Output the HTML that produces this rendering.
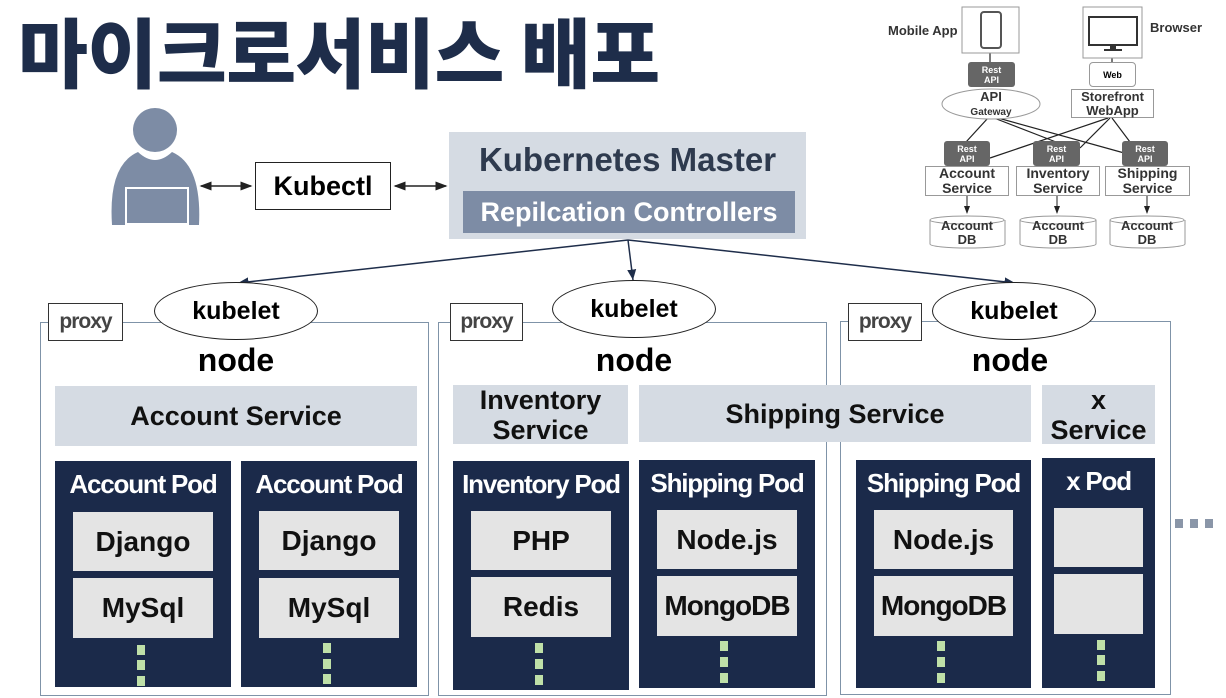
<!DOCTYPE html>
<html><head><meta charset="utf-8"><style>
body{margin:0;width:1226px;height:698px;background:#fff;position:relative;overflow:hidden;font-family:"Liberation Sans","Noto Sans CJK KR",sans-serif;}
.a{position:absolute;box-sizing:border-box;display:flex;align-items:center;justify-content:center;text-align:center;}
.node{position:absolute;border:1.5px solid #7f93a8;box-sizing:border-box;}
.proxy{background:#fff;border:1.5px solid #333;font-size:21px;color:#444;font-weight:bold;letter-spacing:-1px;}
.kub{background:#fff;border:1.5px solid #222;border-radius:50%;font-size:25px;font-weight:bold;}
.nd{font-size:32px;font-weight:bold;}
.svc{background:#d5dbe3;font-size:27px;font-weight:bold;line-height:30px;color:#111;}
.pod{background:#1b2a4a;}
.pt{position:absolute;left:0;right:0;top:8px;color:#fff;font-weight:bold;font-size:26px;letter-spacing:-1.2px;text-align:center;}
.in{background:#e4e4e4;font-size:28px;font-weight:bold;color:#111;}
.dot{position:absolute;width:8px;height:10px;background:#bfe0a8;}
.sm{font-weight:bold;color:#333;}
</style></head><body>
<div class="a" style="left:18px;top:4px;width:680px;height:90px;font-family:'Noto Sans CJK KR',sans-serif;font-weight:900;font-size:76px;color:#1e2d4a;letter-spacing:-0.5px;justify-content:flex-start;white-space:nowrap">마이크로서비스 배포</div>

<svg style="position:absolute;left:0;top:0" width="1226" height="698">
<defs><marker id="ar" markerWidth="8" markerHeight="8" refX="7" refY="4" orient="auto-start-reverse"><path d="M0,1L8,4L0,7z" fill="#222"/></marker>
<marker id="ar2" markerWidth="8" markerHeight="8" refX="7" refY="4" orient="auto"><path d="M0,1L7,4L0,7z" fill="#1e2d4a"/></marker></defs>
<circle cx="155" cy="130" r="22" fill="#7d8ca5"/>
<path d="M112,225 Q108,165 138,152 Q155,168 172,152 Q202,165 199,225 Z" fill="#7d8ca5"/>
<rect x="126" y="188" width="62" height="36" fill="#7d8ca5" stroke="#fff" stroke-width="2"/>
<line x1="126" y1="228" x2="188" y2="228" stroke="#fff" stroke-width="2"/>
<line x1="201" y1="186" x2="251" y2="186" stroke="#222" stroke-width="1.5" marker-end="url(#ar)" marker-start="url(#ar)"/>
<line x1="395" y1="186" x2="446" y2="186" stroke="#222" stroke-width="1.5" marker-end="url(#ar)" marker-start="url(#ar)"/>
<line x1="628" y1="240" x2="238" y2="283" stroke="#1e2d4a" stroke-width="1.5" marker-end="url(#ar2)"/>
<line x1="628" y1="240" x2="633" y2="280" stroke="#1e2d4a" stroke-width="1.5" marker-end="url(#ar2)"/>
<line x1="628" y1="240" x2="1015" y2="283" stroke="#1e2d4a" stroke-width="1.5" marker-end="url(#ar2)"/>
<g stroke="#222" stroke-width="1.2" fill="none">
<line x1="990" y1="53" x2="990" y2="62"/><line x1="1112" y1="58" x2="1112" y2="62"/>
<line x1="988" y1="118" x2="966" y2="142"/><line x1="994" y1="118" x2="1056" y2="142"/><line x1="998" y1="118" x2="1135" y2="156"/>
<line x1="1108" y1="118" x2="990" y2="158"/><line x1="1110" y1="118" x2="1080" y2="148"/><line x1="1112" y1="118" x2="1130" y2="142"/>
</g>
<g stroke="#222" stroke-width="1" marker-end="url(#ar)">
<line x1="967" y1="196" x2="967" y2="213"/><line x1="1057" y1="196" x2="1057" y2="213"/><line x1="1147" y1="196" x2="1147" y2="213"/>
</g>
<g fill="#fff" stroke="#999" stroke-width="1">
<rect x="962" y="7" width="57" height="46"/><rect x="1083" y="7" width="59" height="51"/>
<ellipse cx="991" cy="104" rx="49" ry="15"/>
<path d="M930,220 v24 a37,4 0 0 0 75,0 v-24"/><ellipse cx="967" cy="220" rx="37" ry="4"/>
<path d="M1020,220 v24 a38,4 0 0 0 76,0 v-24"/><ellipse cx="1058" cy="220" rx="38" ry="4"/>
<path d="M1110,220 v24 a37,4 0 0 0 75,0 v-24"/><ellipse cx="1147" cy="220" rx="37" ry="4"/>
</g>
<rect x="981" y="12" width="20" height="36" rx="3" fill="#fff" stroke="#555" stroke-width="2"/>
<rect x="1089" y="17" width="48" height="28" fill="#fff" stroke="#333" stroke-width="2"/>
<rect x="1110" y="45" width="6" height="5" fill="#333"/><rect x="1104" y="49" width="18" height="2" fill="#333"/>
<g font-family="Liberation Sans" font-weight="bold" fill="#333">
<text x="888" y="35" font-size="13">Mobile App</text><text x="1150" y="32" font-size="13">Browser</text>
<text x="991" y="101" font-size="13" text-anchor="middle">API</text><text x="991" y="115" font-size="10" text-anchor="middle">Gateway</text>
<text x="967" y="230" font-size="13" text-anchor="middle">Account</text><text x="967" y="244" font-size="13" text-anchor="middle">DB</text>
<text x="1058" y="230" font-size="13" text-anchor="middle">Account</text><text x="1058" y="244" font-size="13" text-anchor="middle">DB</text>
<text x="1147" y="230" font-size="13" text-anchor="middle">Account</text><text x="1147" y="244" font-size="13" text-anchor="middle">DB</text>
</g>
</svg>

<div class="a" style="left:968px;top:62px;width:47px;height:25px;background:#666;border-radius:3px;color:#fff;font-size:9px;font-weight:bold;line-height:10px">Rest<br>API</div>
<div class="a" style="left:1089px;top:62px;width:47px;height:25px;background:#fff;border:1px solid #999;border-radius:4px;font-size:9px;font-weight:bold">Web</div>
<div class="a sm" style="left:1071px;top:89px;width:83px;height:29px;background:#fff;border:1px solid #999;font-size:13px;line-height:14px">Storefront<br>WebApp</div>
<div class="a" style="left:944px;top:141px;width:46px;height:25px;background:#666;border-radius:3px;color:#fff;font-size:9px;font-weight:bold;line-height:10px">Rest<br>API</div>
<div class="a" style="left:1033px;top:141px;width:47px;height:25px;background:#666;border-radius:3px;color:#fff;font-size:9px;font-weight:bold;line-height:10px">Rest<br>API</div>
<div class="a" style="left:1122px;top:141px;width:46px;height:25px;background:#666;border-radius:3px;color:#fff;font-size:9px;font-weight:bold;line-height:10px">Rest<br>API</div>
<div class="a sm" style="left:925px;top:166px;width:84px;height:30px;background:#fff;border:1px solid #999;font-size:14px;line-height:15px">Account<br>Service</div>
<div class="a sm" style="left:1016px;top:166px;width:84px;height:30px;background:#fff;border:1px solid #999;font-size:14px;line-height:15px">Inventory<br>Service</div>
<div class="a sm" style="left:1105px;top:166px;width:85px;height:30px;background:#fff;border:1px solid #999;font-size:14px;line-height:15px">Shipping<br>Service</div>

<div class="a" style="left:255px;top:162px;width:136px;height:48px;border:1.5px solid #222;font-size:27px;font-weight:bold">Kubectl</div>
<div class="a" style="left:449px;top:132px;width:357px;height:107px;background:#d5dbe3"></div>
<div class="a" style="left:449px;top:138px;width:357px;height:44px;font-size:33px;font-weight:bold;color:#2e3a4e">Kubernetes Master</div>
<div class="a" style="left:463px;top:191px;width:332px;height:42px;background:#7d8ca5;color:#fff;font-size:27px;font-weight:bold">Repilcation Controllers</div>

<div class="node" style="left:40px;top:322px;width:389px;height:374px"></div>
<div class="node" style="left:438px;top:322px;width:389px;height:374px"></div>
<div class="node" style="left:840px;top:321px;width:331px;height:374px"></div>

<div class="a proxy" style="left:48px;top:303px;width:75px;height:38px">proxy</div>
<div class="a proxy" style="left:450px;top:303px;width:73px;height:38px">proxy</div>
<div class="a proxy" style="left:848px;top:303px;width:74px;height:38px">proxy</div>
<div class="a kub" style="left:154px;top:282px;width:164px;height:58px">kubelet</div>
<div class="a kub" style="left:552px;top:280px;width:164px;height:58px">kubelet</div>
<div class="a kub" style="left:932px;top:282px;width:164px;height:58px">kubelet</div>
<div class="a nd" style="left:166px;top:340px;width:140px;height:40px">node</div>
<div class="a nd" style="left:564px;top:340px;width:140px;height:40px">node</div>
<div class="a nd" style="left:940px;top:340px;width:140px;height:40px">node</div>

<div class="a svc" style="left:55px;top:386px;width:362px;height:60px">Account Service</div>
<div class="a svc" style="left:453px;top:385px;width:175px;height:59px">Inventory<br>Service</div>
<div class="a svc" style="left:639px;top:385px;width:392px;height:57px">Shipping Service</div>
<div class="a svc" style="left:1042px;top:385px;width:113px;height:59px">x<br>Service</div>

<div class="pod" style="position:absolute;left:55px;top:461px;width:176px;height:226px"><div class="pt">Account Pod</div></div>
<div class="pod" style="position:absolute;left:241px;top:461px;width:176px;height:226px"><div class="pt">Account Pod</div></div>
<div class="pod" style="position:absolute;left:453px;top:461px;width:176px;height:229px"><div class="pt">Inventory Pod</div></div>
<div class="pod" style="position:absolute;left:639px;top:460px;width:176px;height:228px"><div class="pt">Shipping Pod</div></div>
<div class="pod" style="position:absolute;left:856px;top:460px;width:175px;height:228px"><div class="pt">Shipping Pod</div></div>
<div class="pod" style="position:absolute;left:1042px;top:458px;width:113px;height:230px"><div class="pt">x Pod</div></div>

<div class="a in" style="left:73px;top:512px;width:140px;height:59px">Django</div>
<div class="a in" style="left:73px;top:578px;width:140px;height:60px">MySql</div>
<div class="a in" style="left:259px;top:511px;width:140px;height:59px">Django</div>
<div class="a in" style="left:259px;top:578px;width:140px;height:60px">MySql</div>
<div class="a in" style="left:471px;top:511px;width:140px;height:59px">PHP</div>
<div class="a in" style="left:471px;top:577px;width:140px;height:60px">Redis</div>
<div class="a in" style="left:657px;top:510px;width:140px;height:59px">Node.js</div>
<div class="a in" style="left:657px;top:576px;width:140px;height:60px;letter-spacing:-1px">MongoDB</div>
<div class="a in" style="left:874px;top:510px;width:139px;height:59px">Node.js</div>
<div class="a in" style="left:874px;top:576px;width:139px;height:60px;letter-spacing:-1px">MongoDB</div>
<div class="a in" style="left:1054px;top:508px;width:89px;height:59px"></div>
<div class="a in" style="left:1054px;top:574px;width:89px;height:60px"></div>

<div class="dot" style="left:137px;top:645px"></div><div class="dot" style="left:137px;top:660px"></div><div class="dot" style="left:137px;top:676px"></div>
<div class="dot" style="left:323px;top:643px"></div><div class="dot" style="left:323px;top:659px"></div><div class="dot" style="left:323px;top:674px"></div>
<div class="dot" style="left:535px;top:643px"></div><div class="dot" style="left:535px;top:659px"></div><div class="dot" style="left:535px;top:675px"></div>
<div class="dot" style="left:720px;top:641px"></div><div class="dot" style="left:720px;top:657px"></div><div class="dot" style="left:720px;top:673px"></div>
<div class="dot" style="left:937px;top:641px"></div><div class="dot" style="left:937px;top:657px"></div><div class="dot" style="left:937px;top:673px"></div>
<div class="dot" style="left:1097px;top:640px"></div><div class="dot" style="left:1097px;top:655px"></div><div class="dot" style="left:1097px;top:671px"></div>

<div style="position:absolute;left:1175px;top:519px;width:8px;height:9px;background:#8a96a8"></div>
<div style="position:absolute;left:1190px;top:519px;width:8px;height:9px;background:#8a96a8"></div>
<div style="position:absolute;left:1205px;top:519px;width:8px;height:9px;background:#8a96a8"></div>
</body></html>
